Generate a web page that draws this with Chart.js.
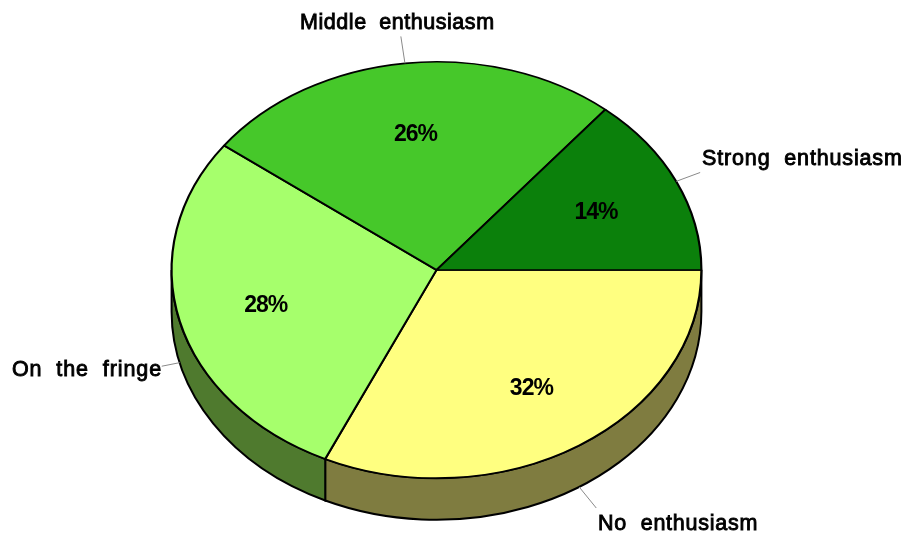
<!DOCTYPE html>
<html>
<head>
<meta charset="utf-8">
<style>
  html, body { margin: 0; padding: 0; background: #fff; }
  canvas { display: block; }
</style>
<script src="https://cdn.jsdelivr.net/npm/chart.js@4"></script>
</head>
<body>
<canvas id="pie" width="906" height="533"></canvas>
<script>
// clockwise from 3 o'clock (labels show them rounded)
const categories = ['No enthusiasm', 'On the fringe', 'Middle enthusiasm', 'Strong enthusiasm'];
const shares = [31.9, 28.3, 25.8, 14.0];
const topColors = ['#ffff80', '#a6ff6c', '#46c82a', '#0b800b'];
const wallColors = ['#7f7c40', '#4f7a2e', '#236415', '#064006'];

// outer label spots: x, baseline, spacing + how far the leader line goes
const labelSpots = [
  { x: 598, y: 530, ls: 0.75, ws: 7, reach: 1.12, onWall: true },
  { x: 12, y: 376, ls: 0.9, ws: 7, reach: 1.07, onWall: true },
  { x: 300, y: 29, ls: 0.55, ws: 6, reach: 1.13, onWall: false },
  { x: 702, y: 165, ls: 0.85, ws: 7, reach: 1.10, onWall: false }
];

const CENTER_Y = 270;
const SQUASH = 0.786;
const DEPTH = 41.5;
const LABEL_FONT = '21.5px "Liberation Sans"';
const PCT_FONT = 'bold 23px "Liberation Sans"';

const fakePerspective = {
  id: 'fakePerspective',
  beforeDatasetsDraw(chart) {
    const ctx = chart.ctx;
    const arcs = chart.getDatasetMeta(0).data;

    // side walls, only the front half can be seen
    arcs.forEach((arc, i) => {
      const a0 = Math.max(arc.startAngle, 0);
      const a1 = Math.min(arc.endAngle, Math.PI);
      if (a1 <= a0) return;
      const rx = arc.outerRadius, ry = rx * SQUASH;
      ctx.beginPath();
      ctx.ellipse(arc.x, CENTER_Y, rx, ry, 0, a0, a1);
      ctx.ellipse(arc.x, CENTER_Y + DEPTH, rx, ry, 0, a1, a0, true);
      ctx.closePath();
      ctx.fillStyle = wallColors[i];
      ctx.fill();
      ctx.lineWidth = 2;
      ctx.strokeStyle = '#000';
      ctx.stroke();
    });

    ctx.save();
    ctx.translate(0, CENTER_Y);
    ctx.scale(1, SQUASH);
    ctx.translate(0, -arcs[0].y);
  },
  afterDatasetsDraw(chart) {
    const ctx = chart.ctx;
    ctx.restore();

    chart.getDatasetMeta(0).data.forEach((arc, i) => {
      const mid = (arc.startAngle + arc.endAngle) / 2;
      const rx = arc.outerRadius, ry = rx * SQUASH;
      const cos = Math.cos(mid), sin = Math.sin(mid);
      const spot = labelSpots[i];
      const drop = spot.onWall ? DEPTH : 0;

      // leader line
      ctx.beginPath();
      ctx.moveTo(arc.x + rx * cos, CENTER_Y + drop + ry * sin);
      ctx.lineTo(arc.x + rx * spot.reach * cos, CENTER_Y + drop + ry * spot.reach * sin);
      ctx.lineWidth = 1;
      ctx.strokeStyle = '#8a8a8a';
      ctx.stroke();

      ctx.fillStyle = '#000';
      ctx.strokeStyle = '#000';

      // percent inside the slice
      ctx.font = PCT_FONT;
      ctx.textAlign = 'center';
      ctx.textBaseline = 'middle';
      ctx.letterSpacing = '-1px';
      ctx.wordSpacing = '0px';
      ctx.fillText(Math.round(shares[i]) + '%', arc.x + rx * 0.665 * cos, CENTER_Y + 2 + ry * 0.665 * sin);

      // category name outside
      ctx.font = LABEL_FONT;
      ctx.textAlign = 'left';
      ctx.textBaseline = 'alphabetic';
      ctx.letterSpacing = spot.ls + 'px';
      ctx.wordSpacing = spot.ws + 'px';
      ctx.lineWidth = 0.9;
      ctx.strokeText(categories[i], spot.x, spot.y);
      ctx.fillText(categories[i], spot.x, spot.y);
    });
  }
};

new Chart(document.getElementById('pie'), {
  type: 'pie',
  data: {
    labels: categories,
    datasets: [{
      data: shares,
      backgroundColor: topColors,
      borderColor: '#000',
      borderWidth: 2.2,
      hoverOffset: 0,
      clip: false
    }]
  },
  options: {
    responsive: false,
    animation: false,
    rotation: 90,
    events: [],
    layout: { padding: { left: 170.5, right: 203.5, top: 0, bottom: 1 } },
    plugins: { legend: { display: false }, tooltip: { enabled: false } }
  },
  plugins: [fakePerspective]
});
</script>
</body>
</html>
